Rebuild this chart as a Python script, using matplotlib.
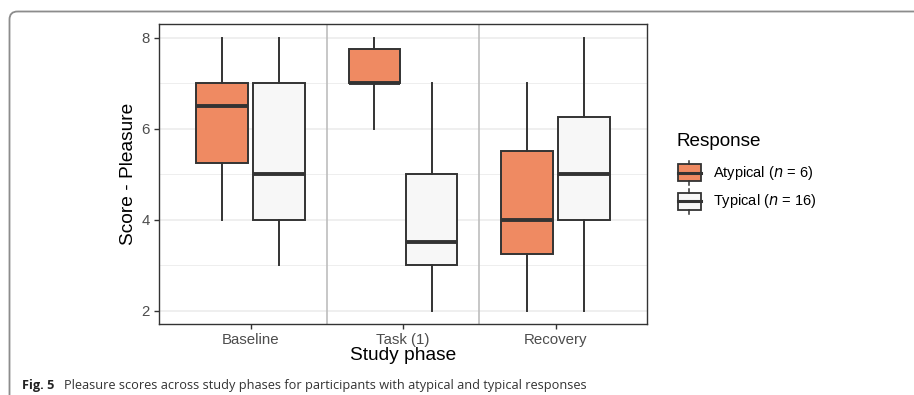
import matplotlib
matplotlib.use("Agg")
import matplotlib.pyplot as plt
from matplotlib.patches import Rectangle, FancyBboxPatch
from matplotlib.lines import Line2D

plt.rcParams['font.family'] = ['Liberation Sans', 'DejaVu Sans']

# Study phases and the two response groups
phases = ["Baseline", "Task (1)", "Recovery"]
groups = ["Atypical", "Typical"]
group_n = [6, 16]
group_colors = ["#EF8A62", "#F7F7F7"]

# Five-number summaries per phase: (whisker low, Q1, median, Q3, whisker high)
atypical_stats = [
    (4.0, 5.25, 6.5, 7.0, 8.0),
    (6.0, 7.0, 7.0, 7.75, 8.0),
    (2.0, 3.25, 4.0, 5.5, 7.0),
]
typical_stats = [
    (3.0, 4.0, 5.0, 7.0, 8.0),
    (2.0, 3.0, 3.5, 5.0, 7.0),
    (2.0, 4.0, 5.0, 6.25, 8.0),
]

W, H, DPI = 914, 395, 100
fig = plt.figure(figsize=(W / DPI, H / DPI), dpi=DPI)

# plot panel position in pixels
px_l, px_r, px_t, px_b = 159, 647, 24, 324.3
ax = fig.add_axes([px_l / W, 1 - px_b / H, (px_r - px_l) / W, (px_b - px_t) / H])

edge = "#333333"
dodge = 0.1875
box_w = 0.3375
for gi, stats in enumerate([atypical_stats, typical_stats]):
    offset = -dodge if gi == 0 else dodge
    bxp_stats = []
    for lo, q1, med, q3, hi in stats:
        bxp_stats.append(dict(whislo=lo, q1=q1, med=med, q3=q3, whishi=hi, fliers=[]))
    positions = [i + 1 + offset for i in range(len(phases))]
    ax.bxp(bxp_stats, positions=positions, widths=box_w, patch_artist=True,
           showcaps=False, showfliers=False,
           boxprops=dict(facecolor=group_colors[gi], edgecolor=edge, linewidth=1.4),
           whiskerprops=dict(color=edge, linewidth=1.4),
           medianprops=dict(color=edge, linewidth=2.8, solid_capstyle='butt'),
           zorder=3)

ax.set_xlim(0.4, 3.6)
ax.set_ylim(1.7, 8.3)
ax.set_xticks(range(1, len(phases) + 1))
ax.set_xticklabels(phases)
ax.set_yticks([2, 4, 6, 8])
ax.set_yticks([3, 5, 7], minor=True)
ax.tick_params(axis='both', which='major', labelsize=10.8, labelcolor="#4D4D4D",
               color="#333333", length=3.5, width=1.0, pad=3)
ax.tick_params(axis='y', which='minor', length=0)
ax.grid(axis='y', which='major', color="#EBEBEB", linewidth=1.1, zorder=0)
ax.grid(axis='y', which='minor', color="#EBEBEB", linewidth=0.6, zorder=0)
ax.set_axisbelow(True)
for x in (1.5, 2.5):
    ax.axvline(x, color="#BDBDBD", linewidth=1.2, zorder=1)
for s in ax.spines.values():
    s.set_color("#333333")
    s.set_linewidth(1.0)
ax.set_xlabel("Study phase", fontsize=13.8, labelpad=0)
ax.set_ylabel("Score - Pleasure", fontsize=13.8, labelpad=3)

# overlay in pixel coordinates for legend, frame and caption
ov = fig.add_axes([0, 0, 1, 1], zorder=5)
ov.set_xlim(0, W)
ov.set_ylim(H, 0)
ov.axis('off')
ov.patch.set_alpha(0)

# page frame with rounded top-left corner
frame = FancyBboxPatch((9.5, 11.5), W + 40, H + 40,
                       boxstyle="round,pad=0,rounding_size=8",
                       facecolor="none", edgecolor="#8C8C8C", linewidth=1.3)
ov.add_patch(frame)

# legend
ov.text(676, 142, "Response", fontsize=13.6, va='center', ha='left')
key_rows = [(164.3, 181.0), (192.7, 210.0)]
for gi, (top, bot) in enumerate(key_rows):
    x0, x1 = 677.5, 700.5
    xc = (x0 + x1) / 2
    ov.add_patch(Rectangle((x0, top), x1 - x0, bot - top,
                           facecolor=group_colors[gi], edgecolor=edge, linewidth=1.3))
    mid = (top + bot) / 2
    ov.add_line(Line2D([x0, x1], [mid, mid], color=edge, linewidth=2.2))
    ov.add_line(Line2D([xc, xc], [top - 3.5, top], color=edge, linewidth=1.1))
    ov.add_line(Line2D([xc, xc], [bot, bot + 3.5], color=edge, linewidth=1.1))
    ov.text(713, mid, f"{groups[gi]} ($\\it{{n}}$ = {group_n[gi]})",
            fontsize=10.5, va='center', ha='left')

# caption
cap_y = 385
ov.text(22, cap_y, "Fig. 5", fontsize=9.2, fontweight='bold', family='Open Sans',
        va='center', ha='left', color="#222222")
ov.text(64, cap_y, "Pleasure scores across study phases for participants with atypical and typical responses",
        fontsize=9.2, family='Open Sans', va='center', ha='left', color="#333333")

fig.savefig("out.png", dpi=DPI)
